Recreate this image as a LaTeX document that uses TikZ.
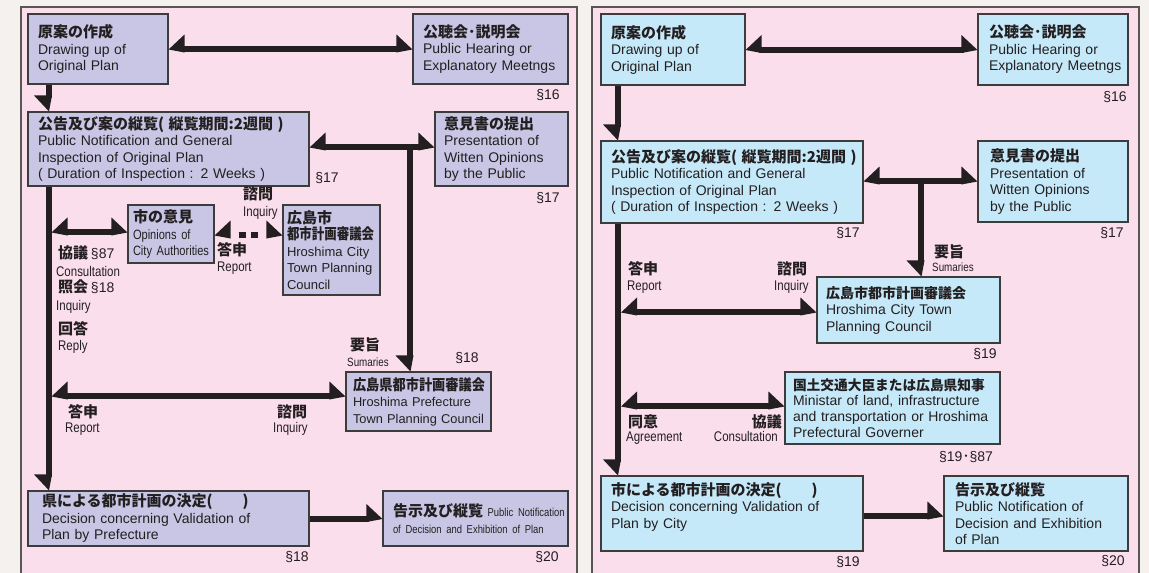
\documentclass[tikz,border=0pt]{standalone}
\usepackage{fontspec}
\usepackage{graphicx}
\setmainfont{Liberation Sans}
\newfontfamily\jp{Noto Sans CJK JP}
\newfontfamily\nar{Liberation Sans}[FakeStretch=0.82]
\newcommand\jh[1]{{\jp\bfseries\fontsize{15}{16.5}\selectfont #1}}
\newcommand\jhs[2]{{\jp\bfseries\fontsize{#1}{16.5}\selectfont #2}}
\newcommand\nr[2]{{\nar\fontsize{#1}{16.5}\selectfont #2}}
\hyphenpenalty=10000
\exhyphenpenalty=10000
\definecolor{bgc}{RGB}{245,241,238}
\definecolor{pnk}{RGB}{251,222,236}
\definecolor{lav}{RGB}{200,198,228}
\definecolor{sky}{RGB}{198,233,249}
\definecolor{arr}{RGB}{35,31,32}
\definecolor{bl}{RGB}{60,60,60}
\definecolor{pb}{RGB}{90,85,85}
\pgfdeclarearrow{
  name = HL,
  setup code = {
    \pgfarrowssettipend{0pt}
    \pgfarrowssetlineend{-13pt}
    \pgfarrowssetbackend{-16pt}
    \pgfarrowshullpoint{0pt}{0pt}
    \pgfarrowshullpoint{-16pt}{14.5pt}
    \pgfarrowshullpoint{-16pt}{-3.5pt}
  },
  drawing code = {
    \pgfpathmoveto{\pgfqpoint{0pt}{-0.5pt}}
    \pgfpathlineto{\pgfqpoint{-16pt}{14.5pt}}
    \pgfpathlineto{\pgfqpoint{-16pt}{-3.5pt}}
    \pgfpathclose
    \pgfusepathqfill
  }
}
\pgfdeclarearrow{
  name = HR,
  setup code = {
    \pgfarrowssettipend{0pt}
    \pgfarrowssetlineend{-13pt}
    \pgfarrowssetbackend{-16pt}
    \pgfarrowshullpoint{0pt}{0pt}
    \pgfarrowshullpoint{-16pt}{-14.5pt}
    \pgfarrowshullpoint{-16pt}{3.5pt}
  },
  drawing code = {
    \pgfpathmoveto{\pgfqpoint{0pt}{0.5pt}}
    \pgfpathlineto{\pgfqpoint{-16pt}{-14.5pt}}
    \pgfpathlineto{\pgfqpoint{-16pt}{3.5pt}}
    \pgfpathclose
    \pgfusepathqfill
  }
}
\tikzset{
 panel/.style={draw=pb, line width=1.3pt, fill=pnk},
 lb/.style={draw=bl, line width=1.1pt, fill=lav, align=left, inner ysep=0pt, text=arr, font=\fontsize{14}{16.5}\selectfont},
 rb/.style={lb, fill=sky},
 conn/.style={color=arr, line width=6pt},
 sec/.style={inner sep=0pt, text=arr, font=\fontsize{14}{16}\selectfont},
 lab/.style={inner sep=0pt, anchor=base west, text=arr},
 labr/.style={inner sep=0pt, anchor=base east, text=arr},
 en/.style={font=\nar\fontsize{14}{15}\selectfont},
}
\begin{document}
\begin{tikzpicture}[x=1pt,y=-1pt]
\useasboundingbox (0,0) rectangle (1149,573);
\clip (0,0) rectangle (1149,573);
\fill[bgc] (0,0) rectangle (1149,573);
\draw[panel] (21,7) rectangle (577,590);
\draw[panel] (592,7) rectangle (1139,590);

% ---------------- left panel ----------------
\node[lb, text width=120pt, inner xsep=10pt, minimum height=70pt] (L1) at (98,49) {\jh{原案の作成}\\Drawing up of\\Original Plan};
\node[lb, text width=135pt, inner xsep=10pt, minimum height=70pt] (L2) at (490.5,49) {\jh{公聴会･説明会}\\Public Hearing or\\\mbox{Explanatory Meetngs}};
\node[lb, text width=261pt, inner xsep=10pt, minimum height=74pt] (L3) at (168.5,149) {\mbox{\jh{公告及び案の縦覧( 縦覧期間:2週間 )}}\\Public Notification and General\\Inspection of Original Plan\\( Duration of Inspection : 2 Weeks )};
\node[lb, text width=115pt, inner xsep=9pt, minimum height=74pt] (L4) at (501.5,149) {\jh{意見書の提出}\\Presentation of\\Witten Opinions\\by the Public};
\node[lb, text width=76pt, inner xsep=5pt, minimum height=58pt] (L5) at (171,234) {\jh{市の意見}\\\nr{13.5}{Opinions of}\\\mbox{\nr{13.5}{City Authorities}}};
\node[lb, text width=89pt, inner xsep=4pt, minimum height=90pt, font=\fontsize{13}{16.5}\selectfont] (L6) at (331.5,250) {\jh{広島市}\\\scalebox{0.83}[1]{\jh{都市計画審議会}}\\\mbox{Hroshima City}\\Town Planning\\Council};
\node[lb, text width=131pt, inner xsep=7pt, minimum height=59pt, font=\fontsize{12.8}{16.5}\selectfont] (L7) at (418.5,401.5) {\scalebox{0.88}[1]{\jh{広島県都市計画審議会}}\\Hroshima Prefecture\\\mbox{Town Planning Council}};
\node[lb, text width=253pt, inner xsep=14pt, minimum height=55pt] (L8) at (168.5,518.5) {\jh{県による都市計画の決定(　　)}\\Decision concerning Validation of\\Plan by Prefecture};
\node[lb, text width=165pt, inner xsep=10pt, minimum height=55pt] (L9) at (475.5,518.5) {\mbox{\jh{告示及び縦覧} \nr{11.5}{Public Notification}}\\\mbox{\nr{11.5}{of Decision and Exhibition of Plan}}};

\coordinate (xL) at (48.5,0);
\coordinate (yA) at (0,147);
\coordinate (jA) at (410,147);
\coordinate (yB) at (0,235);
\coordinate (bA) at (51.5,232);
\coordinate (bB) at (51.5,396);

\draw[conn, {HR}-{HL}] (L1.east) -- (L2.west);
\draw[conn, -{HR}] (L1.south -| xL) -- (L3.north -| xL);
\draw[conn, {HR}-{HL}] (L3.east |- yA) -- (L4.west |- yA);
\draw[conn, -{HR}] (jA) -- (L7.north -| jA);
\draw[conn, -{HR}] (L3.south -| xL) -- (L8.north -| xL);
\draw[conn, {HR}-{HL}] (bA) -- (L5.west |- bA);
\draw[conn, {HR}-{HL}, dash pattern=on 7pt off 5pt on 7pt off 30pt, dash phase=38pt] (L5.east |- yB) -- (L6.west |- yB);
\draw[conn, {HR}-{HL}] (bB) -- (L7.west |- bB);
\draw[conn, -{HL}] (L8.east) -- (L9.west);

\node[sec] (sL1) at (548,95) {§16};
\node[sec] (sL2) at (327,178) {§17};
\node[sec] (sL3) at (548,198) {§17};
\node[sec] (sL4) at (467,358) {§18};
\node[sec] (sL5) at (297,557) {§18};
\node[sec] (sL6) at (547,557) {§20};

\node[lab] (tL1) at (243,199.5) {\jh{諮問}};
\node[lab, en] (tL2) at (243,216) {Inquiry};
\node[lab] (tL3) at (217,255.5) {\jh{答申}};
\node[lab, en] (tL4) at (217,271) {Report};
\node[lab] (tL5) at (58,258.5) {\jh{協議} {\fontsize{14}{16}\selectfont §87}};
\node[lab, en] (tL6) at (56,276) {Consultation};
\node[lab] (tL7) at (58,292.5) {\jh{照会} {\fontsize{14}{16}\selectfont §18}};
\node[lab, en] (tL8) at (56,310) {Inquiry};
\node[lab] (tL9) at (58,334.5) {\jh{回答}};
\node[lab, en] (tL10) at (58,350) {Reply};
\node[lab] (tL11) at (350,350.5) {\jh{要旨}};
\node[lab, font=\nar\fontsize{12}{13}\selectfont] (tL12) at (347,366) {Sumaries};
\node[lab] (tL13) at (68,417.5) {\jh{答申}};
\node[lab, en] (tL14) at (65,432) {Report};
\node[lab] (tL15) at (277,417.5) {\jh{諮問}};
\node[lab, en] (tL16) at (273,432) {Inquiry};

% ---------------- right panel ----------------
\node[rb, text width=124pt, inner xsep=10pt, minimum height=71pt] (R1) at (673,49.5) {\jh{原案の作成}\\Drawing up of\\Original Plan};
\node[rb, text width=128pt, inner xsep=11pt, minimum height=71pt] (R2) at (1053,49.5) {\jh{公聴会･説明会}\\Public Hearing or\\\mbox{Explanatory Meetngs}};
\node[rb, text width=242pt, inner xsep=10pt, minimum height=82pt] (R3) at (732,182) {\mbox{\jh{公告及び案の縦覧( 縦覧期間:2週間 )}}\\Public Notification and General\\Inspection of Original Plan\\( Duration of Inspection : 2 Weeks )};
\node[rb, text width=126pt, inner xsep=12pt, minimum height=81pt] (R4) at (1053,181.5) {\jh{意見書の提出}\\Presentation of\\Witten Opinions\\by the Public};
\node[rb, text width=165pt, inner xsep=9pt, minimum height=66pt] (R5) at (908.5,310) {\jhs{14}{広島市都市計画審議会}\\Hroshima City Town\\Planning Council};
\node[rb, text width=199pt, inner xsep=8pt, minimum height=72pt, font=\fontsize{14}{15.8}\selectfont] (R6) at (892.5,408) {\jhs{13.7}{国土交通大臣または広島県知事}\\\mbox{Ministar of land, infrastructure}\\\mbox{and transportation or Hroshima}\\Prefectural Governer};
\node[rb, text width=242pt, inner xsep=10pt, minimum height=75pt] (R7) at (732,513.5) {\jh{市による都市計画の決定(　　)}\\Decision concerning Validation of\\Plan by City\\\mbox{}};
\node[rb, text width=162pt, inner xsep=11pt, minimum height=75pt] (R8) at (1036,513.5) {\jh{告示及び縦覧}\\Public Notification of\\Decision and Exhibition\\of Plan};

\coordinate (xR) at (617.5,0);
\coordinate (jB) at (921,181);
\coordinate (bC) at (621,312);
\coordinate (bD) at (621,406);
\coordinate (yD) at (0,516);

\draw[conn, {HR}-{HL}] (R1.east) -- (R2.west);
\draw[conn, -{HR}] (R1.south -| xR) -- (R3.north -| xR);
\draw[conn, {HR}-{HL}] (R3.east |- jB) -- (R4.west |- jB);
\draw[conn, -{HR}] (jB) -- (R5.north -| jB);
\draw[conn, -{HR}] (R3.south -| xR) -- (R7.north -| xR);
\draw[conn, {HR}-{HL}] (bC) -- (R5.west |- bC);
\draw[conn, {HR}-{HL}] (bD) -- (R6.west |- bD);
\draw[conn, -{HL}] (R7.east |- yD) -- (R8.west |- yD);

\node[sec] (sR1) at (1115,97) {§16};
\node[sec] (sR2) at (848,233) {§17};
\node[sec] (sR3) at (1112,233) {§17};
\node[sec] (sR4) at (985,354) {§19};
\node[sec] (sR5) at (966,457) {§19{\jp ･}§87};
\node[sec] (sR6) at (848,562) {§19};
\node[sec] (sR7) at (1113,561) {§20};

\node[lab] (tR1) at (934,257.5) {\jh{要旨}};
\node[lab, font=\nar\fontsize{12}{13}\selectfont] (tR2) at (932,271) {Sumaries};
\node[lab] (tR3) at (628,274.5) {\jh{答申}};
\node[lab, en] (tR4) at (627,290) {Report};
\node[lab] (tR5) at (777,274.5) {\jh{諮問}};
\node[lab, en] (tR6) at (774,290) {Inquiry};
\node[lab] (tR7) at (628,427.5) {\jh{同意}};
\node[lab, en] (tR8) at (626,441) {Agreement};
\node[labr] (tR9) at (782,427.5) {\jh{協議}};
\node[labr, en] (tR10) at (778,441) {Consultation};
\end{tikzpicture}
\end{document}
